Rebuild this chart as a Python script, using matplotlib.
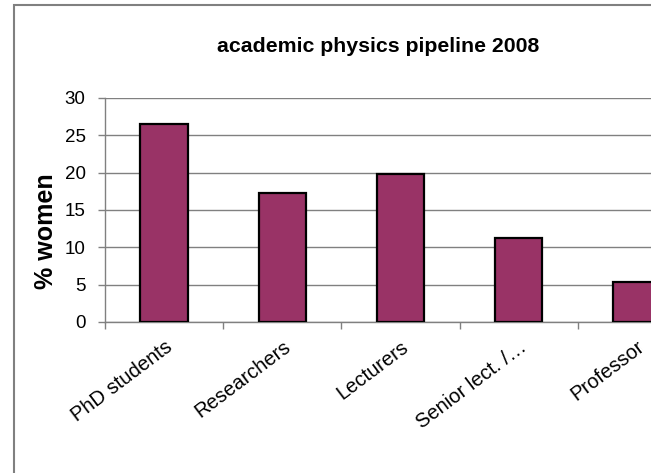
import matplotlib
matplotlib.use("Agg")
import matplotlib.pyplot as plt
from matplotlib.patches import Rectangle

categories = ["PhD students", "Researchers", "Lecturers", "Senior lect. /\u2026", "Professor"]
values = [26.5, 17.3, 19.8, 11.3, 5.4]
yticks = [0, 5, 10, 15, 20, 25, 30]

plt.rcParams['font.family'] = ['Liberation Sans', 'DejaVu Sans']

W, H = 651, 473
fig = plt.figure(figsize=(W / 100, H / 100), dpi=100)

# outer chart border (top-left visible, rest clipped)
fig.add_artist(Rectangle((14 / W, -0.1), 1.2, (H - 5.5) / H + 0.1,
                         transform=fig.transFigure, fill=False,
                         edgecolor="#808080", linewidth=1.5))

left, right = 105 / W, (105 + 5 * 118.2) / W
bottom, top = (H - 322) / H, (H - 98) / H
ax = fig.add_axes([left, bottom, right - left, top - bottom])

x = list(range(len(categories)))
ax.bar(x, values, width=0.4, color="#993366", edgecolor="black", linewidth=1.6, zorder=3)
ax.set_xlim(-0.5, len(categories) - 0.5)
ax.set_ylim(0, 30)
ax.set_yticks(yticks)
ax.set_yticklabels([str(v) for v in yticks], fontsize=13.5)
ax.yaxis.grid(True, color="#808080", linewidth=1, zorder=0)
ax.set_axisbelow(True)

ax.set_xticks([i - 0.5 for i in range(len(categories) + 1)])
ax.set_xticklabels([])
ax.set_xticks(x, minor=True)
ax.set_xticklabels(categories, minor=True, rotation=37, ha="right", va="top",
                   rotation_mode="anchor", fontsize=14.5)
ax.tick_params(axis="x", which="minor", length=0, pad=11)
ax.tick_params(axis="x", which="major", length=5, color="#808080", width=1)
ax.tick_params(axis="y", length=5, color="#808080", width=1, pad=9)

for s in ["top", "right"]:
    ax.spines[s].set_visible(False)
for s in ["left", "bottom"]:
    ax.spines[s].set_color("#808080")
    ax.spines[s].set_linewidth(1)

fig.text(46 / W, (H - 231) / H, "% women", rotation=90, ha="center", va="center",
         fontsize=18, fontweight="bold")
fig.text(378 / W, (H - 47) / H, "academic physics pipeline 2008", ha="center",
         va="center", fontsize=15.3, fontweight="bold")

fig.savefig("out.png", dpi=100)
